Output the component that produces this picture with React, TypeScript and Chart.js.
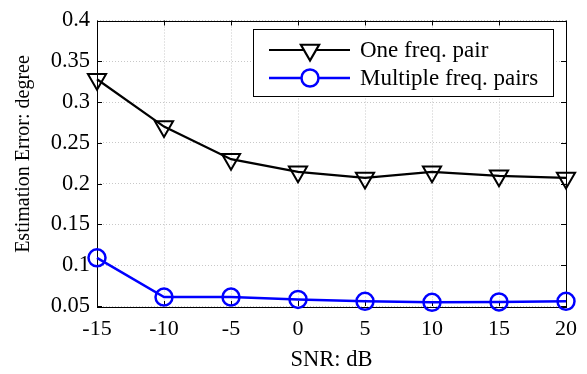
import React, { useEffect, useRef } from "react";
import { Chart, registerables } from "chart.js";

Chart.register(...registerables);

const snr = [-15, -10, -5, 0, 5, 10, 15, 20];
const onePair = [0.328, 0.27, 0.23, 0.2145, 0.207, 0.2145, 0.2096, 0.207];
const multiPairs = [0.109, 0.061, 0.061, 0.058, 0.0557, 0.0545, 0.055, 0.0557];
const xTicks = [-15, -10, -5, 0, 5, 10, 15, 20];
const yTicks = [0.05, 0.1, 0.15, 0.2, 0.25, 0.3, 0.35, 0.4];
const yTickLabels = ["0.05", "0.1", "0.15", "0.2", "0.25", "0.3", "0.35", "0.4"];
const seriesNames = ["One freq. pair", "Multiple freq. pairs"];
const xTitle = "SNR: dB";
const yTitle = "Estimation Error: degree";

const FONT = '"Liberation Serif", "Times New Roman", serif';

function drawTriangleDown(ctx: CanvasRenderingContext2D, x: number, y: number, r: number) {
  ctx.beginPath();
  for (let i = 0; i < 3; i++) {
    const a = Math.PI + (i * 2 * Math.PI) / 3;
    const px = x + Math.sin(a) * r;
    const py = y - Math.cos(a) * r;
    if (i === 0) ctx.moveTo(px, py);
    else ctx.lineTo(px, py);
  }
  ctx.closePath();
}

const framePlugin = {
  id: "frame",
  beforeDatasetsDraw(chart: any) {
    const { ctx, chartArea } = chart;
    const { left, right, top, bottom } = chartArea;
    const xs = chart.scales.x;
    const ys = chart.scales.y;
    ctx.save();
    ctx.strokeStyle = "#000";
    ctx.lineWidth = 1;
    const tl = 5;
    ctx.beginPath();
    xTicks.forEach((v) => {
      const px = Math.round(xs.getPixelForValue(v)) + 0.5;
      ctx.moveTo(px, bottom);
      ctx.lineTo(px, bottom - tl);
      ctx.moveTo(px, top);
      ctx.lineTo(px, top + tl);
    });
    yTicks.forEach((v) => {
      const py = Math.round(ys.getPixelForValue(v)) + 0.5;
      ctx.moveTo(left, py);
      ctx.lineTo(left + tl, py);
      ctx.moveTo(right, py);
      ctx.lineTo(right - tl, py);
    });
    ctx.stroke();
    ctx.strokeRect(Math.round(left) + 0.5, Math.round(top) + 0.5, Math.round(right - left), Math.round(bottom - top));
    ctx.restore();
  },
  afterDraw(chart: any) {
    const { ctx } = chart;
    ctx.save();
    ctx.translate(23.5, 154);
    ctx.rotate(-Math.PI / 2);
    ctx.fillStyle = "#000";
    ctx.font = `20px ${FONT}`;
    ctx.textAlign = "center";
    ctx.textBaseline = "middle";
    ctx.fillText(yTitle, 0, 0);
    ctx.restore();
  },
};

const legendPlugin = {
  id: "boxLegend",
  afterDraw(chart: any) {
    const { ctx } = chart;
    const bx = 253, by = 29, bw = 300, bh = 67;
    ctx.save();
    ctx.fillStyle = "#fff";
    ctx.fillRect(bx, by, bw, bh);
    ctx.strokeStyle = "#000";
    ctx.lineWidth = 1;
    ctx.strokeRect(bx + 0.5, by + 0.5, bw, bh);
    const rows = [
      { y: 50, color: "#000", lw: 2.2, marker: "tri" },
      { y: 78, color: "#0000ff", lw: 2.5, marker: "circ" },
    ];
    rows.forEach((r, i) => {
      ctx.strokeStyle = r.color;
      ctx.lineWidth = r.lw;
      ctx.beginPath();
      ctx.moveTo(269, r.y);
      ctx.lineTo(350, r.y);
      ctx.stroke();
      ctx.fillStyle = "#fff";
      if (r.marker === "tri") {
        drawTriangleDown(ctx, 310, r.y, 10.5);
      } else {
        ctx.beginPath();
        ctx.arc(310, r.y, 8.5, 0, Math.PI * 2);
      }
      ctx.fill();
      ctx.stroke();
      ctx.fillStyle = "#000";
      ctx.font = `23px ${FONT}`;
      ctx.textBaseline = "middle";
      ctx.textAlign = "left";
      ctx.fillText(seriesNames[i], 360, r.y + 1);
    });
    ctx.restore();
  },
};

export default function App() {
  const ref = useRef<HTMLCanvasElement | null>(null);
  useEffect(() => {
    document.body.style.margin = "0";
    const canvas = ref.current!;
    const chart = new Chart(canvas, {
      type: "line",
      data: {
        datasets: [
          {
            label: seriesNames[0],
            data: snr.map((x, i) => ({ x, y: onePair[i] })),
            borderColor: "#000",
            backgroundColor: "#fff",
            borderWidth: 2.2,
            pointStyle: "triangle",
            rotation: 180,
            pointRadius: 10.5,
            pointBorderWidth: 2,
            pointBackgroundColor: "rgba(0,0,0,0)",
            pointBorderColor: "#000",
            clip: false,
          } as any,
          {
            label: seriesNames[1],
            data: snr.map((x, i) => ({ x, y: multiPairs[i] })),
            borderColor: "#0000ff",
            backgroundColor: "#fff",
            borderWidth: 2.5,
            pointStyle: "circle",
            pointRadius: 8.5,
            pointBorderWidth: 2.5,
            pointBackgroundColor: "rgba(0,0,0,0)",
            pointBorderColor: "#0000ff",
            clip: false,
          } as any,
        ],
      },
      options: {
        animation: false,
        responsive: false,
        devicePixelRatio: 1,
        layout: { padding: { left: 0, top: 15, right: 20, bottom: 0 } },
        plugins: { legend: { display: false }, tooltip: { enabled: false } },
        elements: { line: { tension: 0 } },
        scales: {
          x: {
            type: "linear",
            min: -15,
            max: 20,
            afterBuildTicks: (s: any) => {
              s.ticks = xTicks.map((v) => ({ value: v }));
            },
            afterFit: (s: any) => {
              s.height = 68;
            },
            ticks: {
              color: "#000",
              font: { family: FONT, size: 22 },
              padding: 10,
              maxRotation: 0,
              callback: (v: any) => String(v),
            },
            grid: { color: "#c8c8c8", lineWidth: 1, drawTicks: false },
            border: { display: false, dash: [1, 2] },
            title: {
              display: true,
              text: xTitle,
              color: "#000",
              font: { family: FONT, size: 22.5 },
              padding: { top: 0, bottom: 0 },
            },
          },
          y: {
            type: "linear",
            min: 0.05,
            max: 0.4,
            afterBuildTicks: (s: any) => {
              s.ticks = yTicks.map((v) => ({ value: v }));
            },
            afterFit: (s: any) => {
              s.width = 97;
            },
            ticks: {
              color: "#000",
              font: { family: FONT, size: 22.5 },
              padding: 7,
              callback: (v: any) => {
                const i = yTicks.findIndex((t) => Math.abs(t - v) < 1e-9);
                return i >= 0 ? yTickLabels[i] : "";
              },
            },
            grid: { color: "#c8c8c8", lineWidth: 1, drawTicks: false },
            border: { display: false, dash: [1, 2] },
            title: { display: false },
          },
        },
      },
      plugins: [framePlugin, legendPlugin],
    } as any);
    return () => chart.destroy();
  }, []);
  return (
    <div style={{ width: 587, height: 374, background: "#fff" }}>
      <canvas ref={ref} width={587} height={374} style={{ display: "block" }} />
    </div>
  );
}
